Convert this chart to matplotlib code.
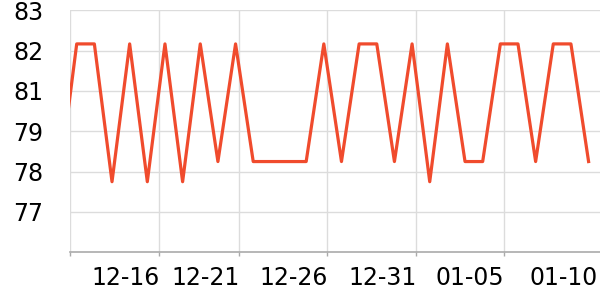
import matplotlib
matplotlib.use('Agg')
import matplotlib.pyplot as plt
import numpy as np

# daily readings, first one sits just left of the visible window
values = [77.9, 82.0, 82.0, 77.9, 82.0, 77.9, 82.0, 77.9, 82.0, 78.5,
          82.0, 78.5, 78.5, 78.5, 78.5, 82.0, 78.5, 82.0, 82.0, 78.5,
          82.0, 77.9, 82.0, 78.5, 78.5, 82.0, 82.0, 78.5, 82.0, 82.0,
          78.5]
days = np.arange(len(values))

tick_pos = [0.62, 5.68, 10.22, 15.2, 20.24, 25.23, 30.5]
tick_labels = ['', '12-16', '12-21', '12-26', '12-31', '01-05', '01-10']
y_ticks = [77.0, 78.2, 79.4, 80.6, 81.8, 83.0]

LINE = '#f04b2d'
GRID = '#dcdcdc'
AXIS = '#aaaaaa'

fig = plt.figure(figsize=(6, 3), dpi=100)
# right edge of the axes runs a couple of pixels past the figure
ax = fig.add_axes([70 / 600, 47.7 / 300, 532 / 600, 242 / 300])

ax.plot(days, values, color=LINE, linewidth=2.3, solid_joinstyle='round')

ax.set_xlim(0.62, 30.76)
ax.set_ylim(75.8, 83.0)

ax.set_xticks(tick_pos)
ax.set_xticklabels(tick_labels, ha='right')
ax.set_yticks(y_ticks)
ax.set_yticklabels([f'{round(v)}' for v in y_ticks])

ax.grid(True, color=GRID, linewidth=1)
ax.set_axisbelow(True)
for s in ['top', 'right', 'left']:
    ax.spines[s].set_visible(False)
ax.spines['bottom'].set_color(AXIS)
ax.spines['bottom'].set_linewidth(1.2)

ax.tick_params(axis='x', colors=AXIS, length=3, width=1, pad=7,
               labelsize=17, labelcolor='black')
ax.tick_params(axis='y', length=0, pad=19, labelsize=17, labelcolor='black')

# last label only, no grid line or tick mark for it
last = ax.xaxis.get_major_ticks()[-1]
last.gridline.set_visible(False)
last.tick1line.set_visible(False)

fig.savefig('out.png', dpi=100)
